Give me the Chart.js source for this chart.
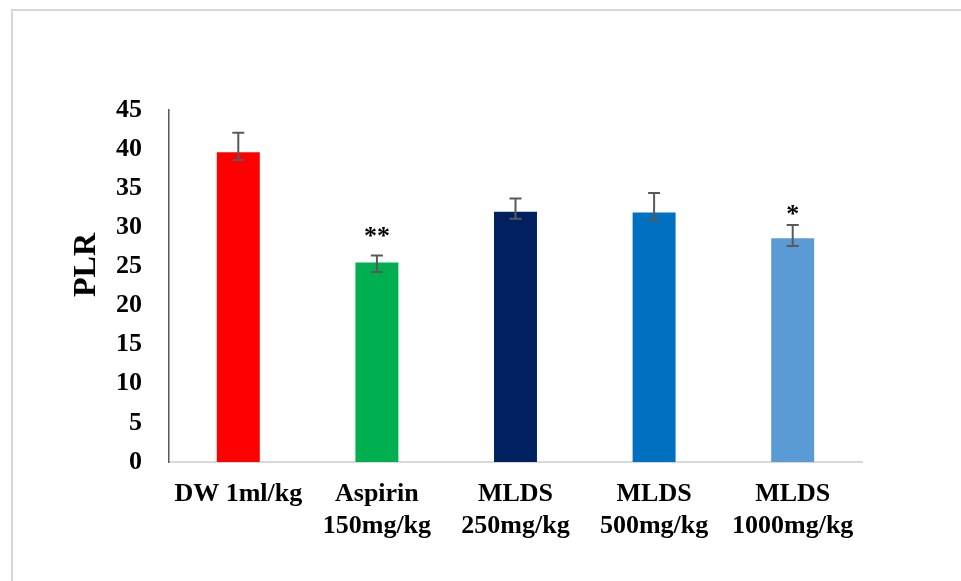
<!DOCTYPE html>
<html>
<head>
<meta charset="utf-8">
<script src="https://cdn.jsdelivr.net/npm/chart.js@4/dist/chart.umd.min.js"></script>
<style>
body{margin:0;background:#fff}
#wrap{width:961px;height:581px}
</style>
</head>
<body>
<div id="wrap"><canvas id="chart" width="961" height="581"></canvas></div>
<script>

// DATA

const groups=[
"DW 1ml/kg",
["Aspirin","150mg/kg"],
["MLDS","250mg/kg"],
["MLDS","500mg/kg"],
["MLDS","1000mg/kg"]
]

const plr=[39.6,25.5,32.0,31.9,28.6]

const errPlus=[2.5,0.9,1.7,2.5,1.7]
const errMinus=[1.0,1.2,0.9,1.0,1.0]

const stars=["","**","","","*"]

const barColors=["#FF0000","#00B050","#002060","#0070C0","#5B9BD5"]

const yTicks=[0,5,10,15,20,25,30,35,40,45]


const serif="'Liberation Serif','Times New Roman',serif"


// ERROR BARS + STARS + FRAME

const extras={

id:"extras",

beforeDraw(chart){

const ctx=chart.ctx

ctx.save()
ctx.fillStyle="#fff"
ctx.fillRect(0,0,chart.width,chart.height)

ctx.strokeStyle="#d6d6d6"
ctx.lineWidth=2
ctx.beginPath()
ctx.moveTo(12,chart.height)
ctx.lineTo(12,10)
ctx.lineTo(chart.width,10)
ctx.stroke()
ctx.restore()

},

afterDatasetsDraw(chart,args,opts){

const ctx=chart.ctx
const y=chart.scales.y
const meta=chart.getDatasetMeta(0)

ctx.save()

ctx.strokeStyle="#595959"
ctx.lineWidth=2

meta.data.forEach((bar,i)=>{

const top=y.getPixelForValue(plr[i]+errPlus[i])
const bot=y.getPixelForValue(plr[i]-errMinus[i])

ctx.beginPath()
ctx.moveTo(bar.x,top)
ctx.lineTo(bar.x,bot)
ctx.moveTo(bar.x-6,top)
ctx.lineTo(bar.x+6,top)
ctx.moveTo(bar.x-6,bot)
ctx.lineTo(bar.x+6,bot)
ctx.stroke()

if(stars[i]){

ctx.fillStyle="#000"
ctx.font="bold 26px "+serif
ctx.textAlign="center"
ctx.textBaseline="alphabetic"
ctx.fillText(stars[i],bar.x,top-opts.starGap[i]+7)

}

})

// y title
ctx.translate(87,265)
ctx.rotate(-Math.PI/2)
ctx.fillStyle="#000"
ctx.font="bold 32px "+serif
ctx.textAlign="center"
ctx.textBaseline="middle"
ctx.fillText("PLR",0,0)

ctx.restore()

}

}


// CHART

new Chart(document.getElementById("chart"),{

type:"bar",

data:{
labels:groups,
datasets:[{
label:"PLR",
data:plr,
backgroundColor:barColors,
barPercentage:0.31,
categoryPercentage:1
}]
},

options:{
responsive:false,
animation:false,
events:[],
layout:{padding:{left:0,top:110,right:99,bottom:0}},
plugins:{
legend:{display:false},
tooltip:{enabled:false},
extras:{starGap:[0,18,0,0,10]}
},
scales:{
x:{
grid:{display:false,drawTicks:false},
border:{display:true,color:"#d9d9d9",width:2},
ticks:{
color:"#000",
padding:16,
maxRotation:0,
autoSkip:false,
font:{family:serif,size:26,weight:"bold",lineHeight:1.23}
},
afterFit(s){s.height=119}
},
y:{
min:0,
max:45,
afterBuildTicks(s){s.ticks=yTicks.map(v=>({value:v}))},
grid:{display:false,drawTicks:false},
border:{display:true,color:"#595959",width:1.5},
ticks:{
color:"#000",
padding:27,
font:{family:serif,size:26,weight:"bold"}
},
afterFit(s){s.width=169}
}
}
},

plugins:[extras]

})

</script>
</body>
</html>
